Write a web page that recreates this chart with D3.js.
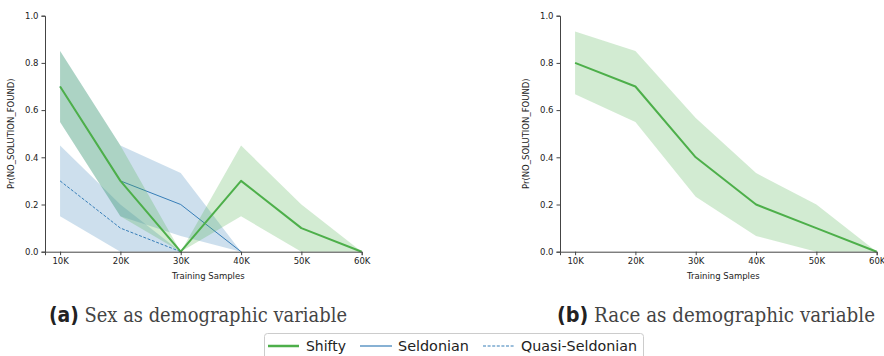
<!DOCTYPE html>
<html>
<head>
<meta charset="utf-8">
<script src="https://cdn.jsdelivr.net/npm/d3@7"></script>
<style>
  body { margin: 0; background: #fff; }
  svg { display: block; }
</style>
</head>
<body>
<svg id="chart" width="884" height="356"></svg>
<script>
// training sizes
const samples = [10000, 20000, 30000, 40000, 50000, 60000];
const xTicks = [10000, 20000, 30000, 40000, 50000, 60000];
const xTickLabels = ["10K", "20K", "30K", "40K", "50K", "60K"];
const yTicks = [0, 0.2, 0.4, 0.6, 0.8, 1.0];

// (a) sex
const sexShifty = [0.7, 0.3, 0.0, 0.3, 0.1, 0.0];
const sexShiftyLo = [0.55, 0.15, 0.0, 0.15, 0.0, 0.0];
const sexShiftyHi = [0.85, 0.45, 0.0, 0.45, 0.2, 0.0];
const sexSeldonian = [0.7, 0.3, 0.2, 0.0];
const sexSeldonianLo = [0.55, 0.15, 0.067, 0.0];
const sexSeldonianHi = [0.85, 0.45, 0.333, 0.0];
const sexQuasi = [0.3, 0.1, 0.0];
const sexQuasiLo = [0.15, 0.0, 0.0];
const sexQuasiHi = [0.45, 0.2, 0.0];

// (b) race
const raceShifty = [0.8, 0.7, 0.4, 0.2, 0.1, 0.0];
const raceShiftyLo = [0.667, 0.55, 0.233, 0.067, 0.0, 0.0];
const raceShiftyHi = [0.933, 0.85, 0.567, 0.333, 0.2, 0.0];

const legendNames = ["Shifty", "Seldonian", "Quasi-Seldonian"];
const captions = [["(a)", " Sex as demographic variable"], ["(b)", " Race as demographic variable"]];

const green = "#4daf4a", blue = "#377eb8";
const svg = d3.select("#chart");

function series(vals, lo, hi) {
  return vals.map((v, i) => ({ x: samples[i], y: v, lo: lo[i], hi: hi[i] }));
}

function panel(left, lines) {
  const x = d3.scaleLinear().domain([7500, 60000]).range([left, left + 316.7]);
  const y = d3.scaleLinear().domain([0, 1]).range([251.7, 15.7]);
  const g = svg.append("g");

  const area = d3.area().x(d => x(d.x)).y0(d => y(d.lo)).y1(d => y(d.hi));
  const line = d3.line().x(d => x(d.x)).y(d => y(d.y));

  lines.forEach(s => {
    g.append("path").attr("d", area(s.data))
      .attr("fill", s.color).attr("fill-opacity", 0.25);
    g.append("path").attr("d", line(s.data))
      .attr("fill", "none").attr("stroke", s.color)
      .attr("stroke-width", s.width)
      .attr("stroke-dasharray", s.dash || null)
      .attr("stroke-linejoin", "round");
  });

  const ax = g.append("g").attr("transform", "translate(0,251.7)")
    .call(d3.axisBottom(x).tickValues(xTicks).tickSize(3.5).tickPadding(2.5)
      .tickFormat((d, i) => xTickLabels[i]));
  const ay = g.append("g").attr("transform", `translate(${left},0)`)
    .call(d3.axisLeft(y).tickValues(yTicks).tickSize(3.5).tickPadding(3)
      .tickFormat(d3.format(".1f")));
  [ax, ay].forEach(a => {
    a.select(".domain").attr("stroke", "#444").attr("stroke-width", 1);
    a.selectAll(".tick line").attr("stroke", "#444");
    a.selectAll("text").attr("font-family", "DejaVu Sans").attr("font-size", 8.5).attr("fill", "#222");
  });

  g.append("text")
    .attr("x", (x(7500) + x(60000)) / 2 + 5).attr("y", 278.5)
    .attr("text-anchor", "middle")
    .attr("font-family", "DejaVu Sans").attr("font-size", 8.5).attr("fill", "#222")
    .text("Training Samples");
  g.append("text")
    .attr("transform", `translate(${left - 31},133.7) rotate(-90)`)
    .attr("text-anchor", "middle")
    .attr("font-family", "DejaVu Sans").attr("font-size", 8.5).attr("fill", "#222")
    .text("Pr(NO_SOLUTION_FOUND)");
}

panel(45, [
  { data: series(sexSeldonian, sexSeldonianLo, sexSeldonianHi), color: blue, width: 1 },
  { data: series(sexQuasi, sexQuasiLo, sexQuasiHi), color: blue, width: 1, dash: "3,1.6" },
  { data: series(sexShifty, sexShiftyLo, sexShiftyHi), color: green, width: 2 }
]);
panel(560, [
  { data: series(raceShifty, raceShiftyLo, raceShiftyHi), color: green, width: 2 }
]);

// captions
const capPos = [[49, 347], [557, 875]];
captions.forEach((c, i) => {
  const t = svg.append("text")
    .attr("x", capPos[i][0]).attr("y", 322)
    .attr("textLength", capPos[i][1] - capPos[i][0])
    .attr("lengthAdjust", "spacingAndGlyphs")
    .attr("fill", "#222");
  t.append("tspan").attr("font-family", "DejaVu Sans Condensed, DejaVu Sans").attr("font-weight", "bold")
    .attr("font-stretch", "condensed").attr("font-size", 21).text(c[0]);
  t.append("tspan").attr("font-family", "DejaVu Serif Condensed, DejaVu Serif")
    .attr("font-stretch", "condensed").attr("font-weight", "normal")
    .attr("font-size", 20).attr("fill", "#444").text(c[1]);
});

// legend
const lg = svg.append("g");
lg.append("rect").attr("x", 264.5).attr("y", 333.5).attr("width", 379).attr("height", 30)
  .attr("rx", 3).attr("fill", "#fff").attr("stroke", "#ccc");
const items = [
  { name: legendNames[0], color: green, width: 2.5, x0: 268, x1: 299, tx: 306, tw: 40 },
  { name: legendNames[1], color: blue, width: 1.2, x0: 360, x1: 392, tx: 398, tw: 71 },
  { name: legendNames[2], color: blue, width: 1.2, x0: 483, x1: 514, tx: 521, tw: 116, dash: "3,1.6" }
];
items.forEach(it => {
  lg.append("line").attr("x1", it.x0).attr("x2", it.x1).attr("y1", 346).attr("y2", 346)
    .attr("stroke", it.color).attr("stroke-width", it.width)
    .attr("stroke-dasharray", it.dash || null);
  lg.append("text").attr("x", it.tx).attr("y", 351)
    .attr("textLength", it.tw).attr("lengthAdjust", "spacingAndGlyphs")
    .attr("font-family", "DejaVu Sans").attr("font-size", 14.5).attr("fill", "#222")
    .text(it.name);
});
</script>
</body>
</html>
